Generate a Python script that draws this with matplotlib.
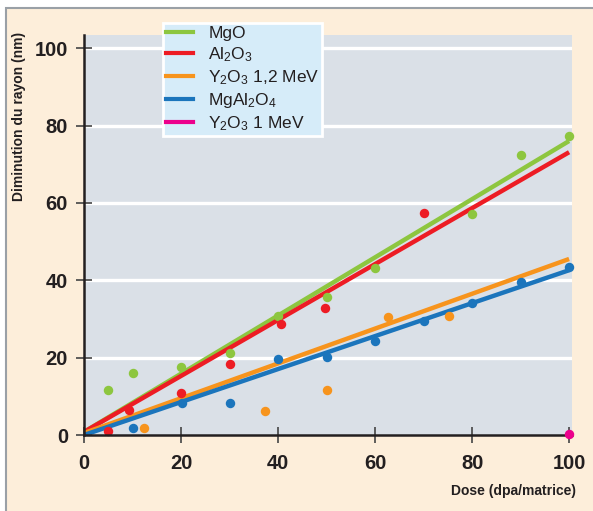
import matplotlib
matplotlib.use("Agg")
import matplotlib.pyplot as plt
from matplotlib.patches import Rectangle
import numpy as np

plt.rcParams['font.family'] = ['Liberation Sans', 'DejaVu Sans']
plt.rcParams['mathtext.default'] = 'regular'

# data
mgo_x = [5, 10, 20, 30, 40, 50, 60, 80, 90, 100]
mgo_y = [11.6, 16.0, 17.6, 21.2, 30.7, 35.7, 43.2, 57.1, 72.4, 77.3]
al2o3_x = [5, 9.3, 20, 30, 40.6, 49.7, 70]
al2o3_y = [1.0, 6.5, 10.9, 18.3, 28.7, 32.8, 57.4]
y2o3_12_x = [12.4, 37.3, 50.1, 62.7, 75.3]
y2o3_12_y = [1.8, 6.2, 11.6, 30.5, 30.7]
mgal_x = [10, 20.2, 30, 40, 50, 60, 70, 80, 90, 100]
mgal_y = [1.8, 8.3, 8.3, 19.6, 20.2, 24.3, 29.5, 34.1, 39.5, 43.4]
y2o3_1_x = [100]
y2o3_1_y = [0.3]

# fitted lines (start, end)
fit_x = [0, 100]
mgo_fit = [0.8, 76.0]
al2o3_fit = [0.8, 73.1]
y2o3_12_fit = [0.5, 45.5]
mgal_fit = [0.0, 42.6]

labels = ['MgO', 'Al$_2$O$_3$', 'Y$_2$O$_3$ 1,2 MeV', 'MgAl$_2$O$_4$', 'Y$_2$O$_3$ 1 MeV']
colors = ['#8DC63F', '#ED1C24', '#F7941D', '#1B75BC', '#EC008C']

fig = plt.figure(figsize=(5.93, 5.11), dpi=100)
fig.patch.set_facecolor('white')
bg = Rectangle((6/593, -0.05), 1.1, (511-8)/511 + 0.05, transform=fig.transFigure,
               facecolor='#FDEEDA', edgecolor='#9AA0A6', linewidth=1.5, zorder=-10)
fig.patches.append(bg)

ax = fig.add_axes([84/593, (511-435)/511, 488/593, 400/511])
ax.set_facecolor('#DAE0E7')
ax.set_xlim(0, 100.6)
ax.set_ylim(0, 103.4)

for v in [20, 40, 60, 80, 100]:
    ax.axhline(v, color='white', lw=2.4, zorder=1)

ax.plot(fit_x, mgo_fit, color=colors[0], lw=3.2, solid_capstyle='butt', zorder=2)
ax.plot(fit_x, al2o3_fit, color=colors[1], lw=3.2, solid_capstyle='butt', zorder=2)
ax.plot(fit_x, y2o3_12_fit, color=colors[2], lw=3.2, solid_capstyle='butt', zorder=2)
ax.plot(fit_x, mgal_fit, color=colors[3], lw=3.2, solid_capstyle='butt', zorder=2)

ms = 6.8
ax.plot(mgo_x, mgo_y, 'o', color=colors[0], ms=ms, mew=0, zorder=3, clip_on=False)
ax.plot(al2o3_x, al2o3_y, 'o', color=colors[1], ms=ms, mew=0, zorder=3, clip_on=False)
ax.plot(y2o3_12_x, y2o3_12_y, 'o', color=colors[2], ms=ms, mew=0, zorder=3, clip_on=False)
ax.plot(mgal_x, mgal_y, 'o', color=colors[3], ms=ms, mew=0, zorder=3, clip_on=False)
ax.plot(y2o3_1_x, y2o3_1_y, 'o', color=colors[4], ms=ms, mew=0, zorder=6, clip_on=False)

for s in ['top', 'right']:
    ax.spines[s].set_visible(False)
for s in ['left', 'bottom']:
    ax.spines[s].set_color('#231F20')
    ax.spines[s].set_linewidth(1.8)
    ax.spines[s].set_zorder(5)

ax.set_xticks([0, 20, 40, 60, 80, 100])
ax.set_yticks([0, 20, 40, 60, 80, 100])
ax.tick_params(direction='inout', length=11, width=1.2, color='#444444',
               labelsize=14.5, labelcolor='#231F20', pad=6)
ax.tick_params(axis='x', pad=8)
for lab in ax.get_xticklabels() + ax.get_yticklabels():
    lab.set_fontweight('bold')

handles = [plt.Line2D([], [], color=c, lw=3) for c in colors]
leg = fig.legend(handles, labels, loc='upper left', bbox_to_anchor=(163/593, 1-23/511),
                 bbox_transform=fig.transFigure, fontsize=12.5, frameon=True, fancybox=False,
                 handlelength=1.6, handletextpad=0.85, labelspacing=0.25, borderpad=0.15,
                 borderaxespad=0)
frame = leg.get_frame()
frame.set_facecolor('#D6ECF9')
frame.set_edgecolor('white')
frame.set_linewidth(2)
frame.set_alpha(1)
for t in leg.get_texts():
    t.set_color('#231F20')

fig.text(19/593, 1-116/511, 'Diminution du rayon (nm)', rotation=90, ha='center', va='center',
         fontsize=10, fontweight='bold', color='#231F20')
fig.text(576/593, 1-491/511, 'Dose (dpa/matrice)', ha='right', va='center',
         fontsize=10, fontweight='bold', color='#231F20')

fig.savefig('out.png', dpi=100)
